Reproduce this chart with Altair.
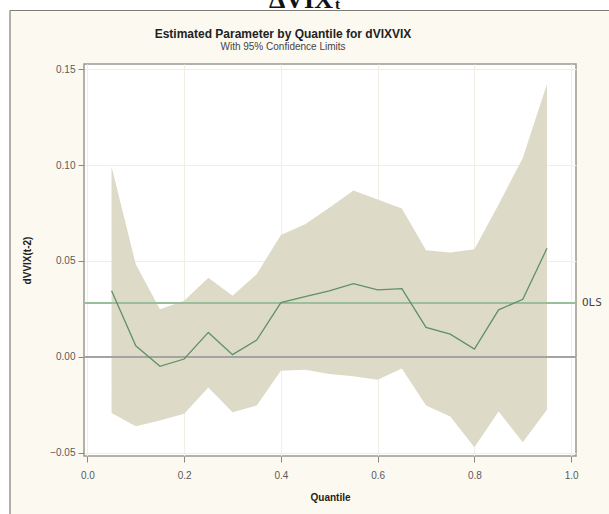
import altair as alt
import pandas as pd

# Quantile regression estimates for dVVIX(t-2), with 95% confidence limits
quantiles = [0.05, 0.10, 0.15, 0.20, 0.25, 0.30, 0.35, 0.40, 0.45, 0.50,
             0.55, 0.60, 0.65, 0.70, 0.75, 0.80, 0.85, 0.90, 0.95]
estimate = [0.0344, 0.0057, -0.0050, -0.0012, 0.0127, 0.0011, 0.0087, 0.0283, 0.0314, 0.0344,
            0.0382, 0.0349, 0.0356, 0.0153, 0.0118, 0.0040, 0.0245, 0.0300, 0.0566]
upper_cl = [0.0992, 0.0483, 0.0248, 0.0292, 0.0413, 0.0318, 0.0431, 0.0636, 0.0691, 0.0778,
            0.0868, 0.0821, 0.0774, 0.0556, 0.0544, 0.0561, 0.0795, 0.1038, 0.1424]
lower_cl = [-0.0293, -0.0363, -0.0333, -0.0298, -0.0160, -0.0290, -0.0255, -0.0073, -0.0068, -0.0090,
            -0.0102, -0.0120, -0.0061, -0.0255, -0.0312, -0.0472, -0.0286, -0.0446, -0.0276]
ols_estimate = 0.0281

x_ticks = [0.0, 0.2, 0.4, 0.6, 0.8, 1.0]
y_ticks = [-0.05, 0.0, 0.05, 0.10, 0.15]

TITLE = "Estimated Parameter by Quantile for dVIXVIX"
SUBTITLE = "With 95% Confidence Limits"

df = pd.DataFrame({"q": quantiles, "est": estimate, "lo": lower_cl, "hi": upper_cl})

W, H = 492, 392
LABEL_FONT = "Liberation Sans"

x_scale = alt.Scale(domain=[-0.007, 1.01], nice=False, zero=False)
y_scale = alt.Scale(domain=[-0.0518, 0.1528], nice=False, zero=False)

x_axis = alt.Axis(values=x_ticks, format=".1f", title="Quantile", tickSize=6,
                  labelPadding=8, titlePadding=12, domain=False)
y_axis = alt.Axis(values=y_ticks, format=".2f", title="dVVIX(t-2)", tickSize=6,
                  labelPadding=3, titlePadding=17, domain=False)

base = alt.Chart(df)

band = base.mark_area(color="#DDDAC8", opacity=1).encode(
    x=alt.X("q:Q", scale=x_scale, axis=x_axis),
    y=alt.Y("lo:Q", scale=y_scale, axis=y_axis),
    y2="hi:Q",
)

zero_line = base.mark_rule(color="#A3A3A0", strokeWidth=1.6).encode(
    y=alt.datum(0.0, scale=y_scale)
)

ols_df = pd.DataFrame({"v": [ols_estimate], "lab": ["OLS"]})
ols_line = alt.Chart(ols_df).mark_rule(color="#9ABD9A", strokeWidth=2).encode(
    y=alt.Y("v:Q", scale=y_scale)
)
ols_text = alt.Chart(ols_df).mark_text(
    align="left", baseline="middle", font="DejaVu Sans Mono", fontSize=11,
    color="#444444", dx=6
).encode(x=alt.value(W), y=alt.Y("v:Q", scale=y_scale), text="lab:N")

est_line = base.mark_line(color="#5F9166", strokeWidth=1.3).encode(
    x=alt.X("q:Q", scale=x_scale),
    y=alt.Y("est:Q", scale=y_scale),
)

one = alt.Data(values=[{}])

# page strip above and left of the figure frame
strip_top = alt.Chart(one).mark_rect(color="white").encode(
    x=alt.value(-84), x2=alt.value(W + 33), y=alt.value(-64), y2=alt.value(-53.5)
)
strip_left = alt.Chart(one).mark_rect(color="white").encode(
    x=alt.value(-84), x2=alt.value(-74), y=alt.value(-64), y2=alt.value(H + 58)
)
frame_top = alt.Chart(one).mark_rule(color="#7F7D72", strokeWidth=1.2).encode(
    x=alt.value(-74), x2=alt.value(W + 33), y=alt.value(-53.5)
)
frame_left = alt.Chart(one).mark_rule(color="#7F7D72", strokeWidth=1.2).encode(
    x=alt.value(-74), y=alt.value(-53.5), y2=alt.value(H + 58)
)

heading = alt.Chart(one).mark_text(
    text="ΔVIX", font="Liberation Serif", fontSize=26, fontWeight="bold",
    align="right", baseline="alphabetic", color="#111111"
).encode(x=alt.value(249), y=alt.value(-56.5))
heading_sub = alt.Chart(one).mark_text(
    text="t", font="Liberation Serif", fontSize=15, fontWeight="bold",
    align="left", baseline="alphabetic", color="#111111"
).encode(x=alt.value(251), y=alt.value(-55))

title = alt.Chart(one).mark_text(
    text=TITLE, font=LABEL_FONT, fontSize=12, fontWeight="bold",
    align="center", baseline="alphabetic", color="#222222"
).encode(x=alt.value(199), y=alt.value(-26.5))
subtitle = alt.Chart(one).mark_text(
    text=SUBTITLE, font=LABEL_FONT, fontSize=10, align="center",
    baseline="alphabetic", color="#444444"
).encode(x=alt.value(199), y=alt.value(-14.5))

chart = alt.layer(
    band, zero_line, ols_line, est_line, ols_text,
    strip_top, strip_left, frame_top, frame_left,
    heading, heading_sub, title, subtitle,
).properties(
    width=W, height=H,
    autosize=alt.AutoSizeParams(type="none"),
    padding={"left": 84, "top": 64, "right": 33, "bottom": 58},
    background="#FCF9F1",
).configure_view(
    fill="white", stroke="#9A988E", strokeWidth=1.5
).configure_axis(
    grid=True, gridColor="#F1EFE3", gridWidth=1,
    tickColor="#8A887E", labelColor="#5A5A5A", labelFont=LABEL_FONT, labelFontSize=10,
    titleFont=LABEL_FONT, titleFontSize=10, titleFontWeight="bold", titleColor="#222222",
)

chart.save("out.html", embed_options={"renderer": "svg", "actions": False})
